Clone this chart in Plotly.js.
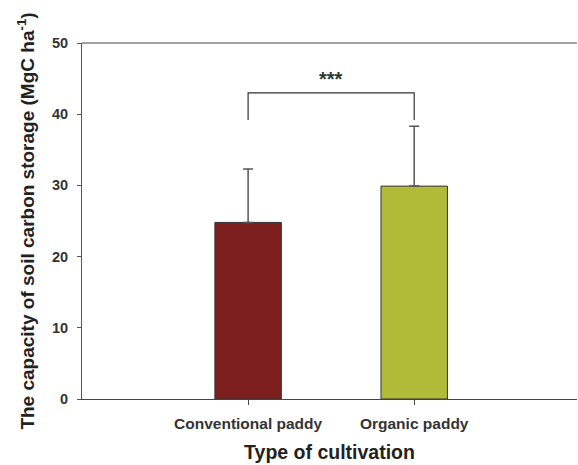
<!DOCTYPE html>
<html>
<head>
<meta charset="utf-8">
<script src="https://cdn.plot.ly/plotly-3.0.1.min.js"></script>
<style>html,body{margin:0;padding:0;background:#fff;}#chart{width:578px;height:465px;}</style>
</head>
<body>
<div id="chart"></div>
<script>
const categories = ["Conventional paddy", "Organic paddy"];
const means = [24.8, 29.9];
const errPlus = [7.5, 8.4];
const barColors = ["#7e1f1f", "#b2bb38"];
const bracketY = [39.2, 43.0, 43.0, 39.2];
const bracketX = [categories[0], categories[0], categories[1], categories[1]];
const sigLabel = "***";
const yTicks = [0, 10, 20, 30, 40, 50];

const font = "Liberation Sans, Arial, sans-serif";

const traces = [
  {
    type: "bar",
    x: categories,
    y: means,
    width: 0.4,
    marker: {color: barColors, line: {color: "#333", width: 1}},
    error_y: {type: "data", symmetric: false, array: errPlus, arrayminus: [0, 0], color: "#555", thickness: 1.5, width: 5},
    hoverinfo: "none"
  },
  {
    type: "scatter",
    mode: "lines",
    x: bracketX,
    y: bracketY,
    line: {color: "#333", width: 1.2},
    hoverinfo: "none"
  }
];

const layout = {
  width: 578,
  height: 465,
  margin: {l: 82, r: 1, t: 43, b: 66},
  showlegend: false,
  paper_bgcolor: "#fff",
  plot_bgcolor: "#fff",
  xaxis: {
    type: "category",
    range: [-1, 1.98],
    showgrid: false,
    zeroline: false,
    showline: true,
    linecolor: "#444",
    linewidth: 1,
    ticks: "outside",
    ticklen: 5,
    tickcolor: "#444",
    ticklabelstandoff: 5,
    tickfont: {family: font, size: 15.5, color: "#333", weight: "bold"},
    title: {text: "<b>Type of cultivation</b>", font: {family: font, size: 19.5, color: "#222"}, standoff: 14}
  },
  yaxis: {
    range: [0, 50],
    tickvals: yTicks,
    showgrid: false,
    zeroline: false,
    showline: true,
    linecolor: "#555",
    linewidth: 1,
    ticks: "outside",
    ticklen: 4,
    tickcolor: "#555",
    ticklabelstandoff: 6,
    tickfont: {family: font, size: 14.5, color: "#333", weight: "bold"},
    title: {text: "<b>The capacity of soil carbon storage (MgC ha<sup>-1</sup>)</b>", font: {family: font, size: 19, color: "#222"}, standoff: 12}
  },
  shapes: [
    {type: "line", xref: "paper", yref: "paper", x0: 0, x1: 1, y0: 1, y1: 1, line: {color: "#444", width: 1}}
  ],
  annotations: [
    {x: 0.5, y: 44.9, xref: "x", yref: "y", text: "<b>" + sigLabel + "</b>", showarrow: false, font: {family: font, size: 20, color: "#333"}}
  ]
};

Plotly.newPlot("chart", traces, layout, {displayModeBar: false, staticPlot: true});
</script>
</body>
</html>
